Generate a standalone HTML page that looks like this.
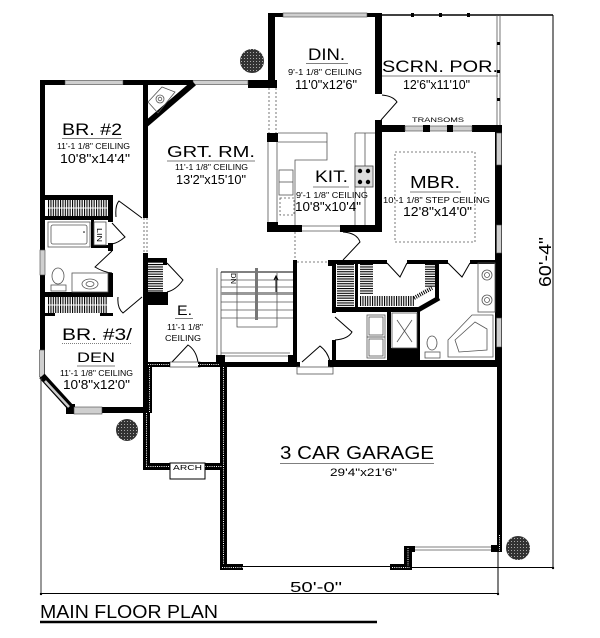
<!DOCTYPE html>
<html><head><meta charset="utf-8">
<style>html,body{margin:0;padding:0;background:#fff}svg{display:block}</style>
</head>
<body>
<svg width="600" height="638" viewBox="0 0 600 638" xmlns="http://www.w3.org/2000/svg">
<defs>
<pattern id="vr" width="2.4" height="10" patternUnits="userSpaceOnUse"><rect width="1.1" height="10" fill="#000"/></pattern>
<pattern id="hr" width="10" height="2.4" patternUnits="userSpaceOnUse"><rect width="10" height="1.1" fill="#000"/></pattern>
<pattern id="tr" width="3" height="3" patternUnits="userSpaceOnUse"><rect width="3" height="3" fill="#333"/><rect x="1" y="1" width="1" height="1" fill="#aaa"/></pattern>
</defs>
<style>
.k{fill:#000}
.w{fill:#cfcfcf;stroke:#444;stroke-width:.6}
.t{fill:none;stroke:#000;stroke-width:1}
.tg{fill:none;stroke:#555;stroke-width:.8}
.d{fill:none;stroke:#555;stroke-width:.8;stroke-dasharray:2 2}
.hd{fill:none;stroke:#fff;stroke-width:1;stroke-dasharray:1 1.2}
text{font-family:"Liberation Sans",sans-serif;fill:#000}
</style>
<rect width="600" height="638" fill="#fff"/>

<!-- ===== LEFT WING ===== -->
<g class="k">
<rect x="40" y="80" width="25" height="5"/>
<rect x="123" y="80" width="70" height="5"/>
<rect x="248" y="80" width="29" height="8"/>
<rect x="40" y="80" width="5" height="298"/>
<rect x="102" y="407" width="46" height="6"/>
<rect x="66" y="404" width="9" height="10"/>
<rect x="143" y="85" width="5" height="133"/>
<rect x="143" y="253" width="5" height="160"/>
<!-- BR2 closet -->
<rect x="45" y="195" width="67" height="5"/>
<rect x="45" y="216" width="68" height="4"/>
<!-- hall wall -->
<rect x="108" y="195" width="5" height="27"/>
<rect x="108" y="243" width="5" height="8"/>
<rect x="108" y="273" width="5" height="24"/>
<!-- LIN frame -->
<rect x="91" y="220" width="3" height="28"/>
<rect x="91" y="245" width="22" height="3"/>
<!-- bath bottom -->
<rect x="45" y="292" width="68" height="5"/>
<rect x="45" y="313" width="10" height="3"/>
<rect x="100" y="313" width="13" height="3"/>
<!-- coat closet -->
<rect x="147" y="258" width="20" height="4"/>
<rect x="163" y="258" width="4" height="7"/>
<rect x="147" y="292" width="21" height="13"/>
</g>
<rect class="w" x="65" y="80.5" width="58" height="4"/>
<rect class="w" x="193" y="80.5" width="55" height="4"/>
<rect class="w" x="40" y="250" width="5" height="25"/>
<rect class="w" x="39.5" y="350" width="5" height="27"/>
<path d="M42,376 L72,409" stroke="#000" stroke-width="7"/>
<path d="M45,381 L69,407" stroke="#ccc" stroke-width="2.5"/>
<rect class="w" x="74" y="407" width="28" height="7"/>
<path class="d" d="M144,218V253M147,218V253"/>
<!-- fireplace -->
<path d="M145,125 L194,83" stroke="#000" stroke-width="6"/>
<polygon class="tg" points="148,102 162,87 175,92 158,113"/>
<circle class="tg" cx="160" cy="99" r="4"/>
<circle class="tg" cx="160" cy="99" r="1.8"/>
<!-- closets -->
<rect x="47" y="200" width="61" height="16" fill="url(#vr)"/>
<path d="M47,208H108" stroke="#fff" stroke-width="1"/>
<rect x="47" y="297" width="61" height="16" fill="url(#vr)"/>
<path d="M47,305H108" stroke="#fff" stroke-width="1"/>
<rect x="148" y="262" width="15" height="30" fill="url(#hr)"/>
<!-- tub, lin -->
<rect class="tg" x="48" y="222" width="42" height="25"/>
<rect class="tg" x="51" y="225" width="36" height="19" rx="2"/>
<circle cx="84" cy="232" r=".8" fill="#000"/>
<rect class="tg" x="94" y="222" width="12" height="23"/>
<text transform="translate(97,228) rotate(90)" font-size="7" textLength="14" lengthAdjust="spacingAndGlyphs">LIN</text>
<!-- toilet & vanity -->
<ellipse class="tg" cx="58" cy="276" rx="6" ry="8"/>
<rect class="tg" x="51" y="285" width="15" height="6"/>
<rect class="tg" x="72" y="273" width="36" height="19"/>
<ellipse class="tg" cx="90" cy="284" rx="8" ry="5"/>
<ellipse class="tg" cx="90" cy="284" rx="4" ry="2.5"/>
<!-- doors -->
<path class="t" d="M116,217Q115,205 119,201L142,218"/>
<path class="t" d="M112,223L125,237Q118,243 112,244"/>
<path class="t" d="M112,251L95,267Q103,272 112,273"/>
<path class="t" d="M118,297Q117,308 123,313L142,297"/>
<path class="t" d="M167,263L183,280Q176,290 167,292"/>

<!-- ===== DINING / KITCHEN ===== -->
<g class="k">
<rect x="268" y="13" width="7" height="75"/>
<rect x="268" y="13" width="15" height="4"/>
<rect x="367" y="13" width="15" height="4"/>
<rect x="375" y="13" width="7" height="81"/>
<rect x="375" y="120" width="7" height="112"/>
<rect x="267" y="133" width="11" height="9"/>
<rect x="267" y="222" width="11" height="10"/>
<rect x="267" y="225" width="35" height="7"/>
<rect x="340" y="225" width="42" height="7"/>
</g>
<rect class="w" x="283" y="13" width="84" height="4"/>
<path class="d" d="M269,88V133M276,88V133"/>
<path class="tg" d="M268,142V222M277,142V222"/>
<path class="tg" d="M302,226H340M302,231H340"/>
<path class="tg" d="M278,133H327V160H295V225M278,142H327"/>
<rect class="tg" x="279" y="170" width="14" height="25"/>
<path class="tg" d="M279,182H293"/>
<rect class="d" x="280" y="198" width="14" height="17"/>
<path class="tg" d="M355,133V225M365,133V225M355,133H375"/>
<rect x="355" y="166" width="18" height="21" fill="#ddd" stroke="#444" stroke-width=".8"/>
<circle cx="360" cy="171" r="2.2"/><circle cx="368" cy="171" r="2.2"/>
<circle cx="360" cy="182" r="2.2"/><circle cx="368" cy="182" r="2.2"/>
<path class="t" d="M382,95Q393,96 397,102L381,120"/>
<path class="t" d="M343,232Q357,233 360,242L343,260"/>

<!-- ===== SCREEN PORCH ===== -->
<path d="M382,15H553" stroke="#000" stroke-width="1.5"/>
<g class="k"><rect x="411" y="13" width="3" height="4"/><rect x="439" y="13" width="3" height="4"/><rect x="467" y="13" width="3" height="4"/></g>
<path class="tg" d="M497,15V125M500,15V125"/>
<g class="k"><rect x="497" y="42" width="3" height="3"/><rect x="497" y="70" width="3" height="3"/><rect x="497" y="98" width="3" height="3"/></g>

<!-- ===== MASTER ===== -->
<g class="k">
<rect x="375" y="125" width="30" height="7"/>
<rect x="472" y="125" width="28" height="7"/>
<rect x="495" y="125" width="7" height="242"/>
<rect x="330" y="260" width="57" height="4"/>
<rect x="407" y="260" width="41" height="4"/>
<rect x="470" y="260" width="27" height="4"/>
<rect x="332" y="262" width="4" height="51"/>
<rect x="332" y="340" width="4" height="22"/>
<rect x="355" y="263" width="3" height="45"/>
<rect x="332" y="307" width="88" height="5"/>
<rect x="435" y="263" width="4" height="37"/>
<rect x="387" y="312" width="4" height="50"/>
<rect x="417" y="312" width="3" height="50"/>
<rect x="391" y="348" width="27" height="13"/>
<rect x="328" y="360" width="174" height="7"/>
<rect x="328" y="260" width="7" height="6"/>
</g>
<rect class="w" x="405" y="126" width="67" height="5"/>
<rect x="423" y="125" width="7" height="7"/>
<rect x="447" y="125" width="6" height="7"/>
<rect class="w" x="496.5" y="133" width="5" height="32"/>
<rect class="w" x="496.5" y="225" width="5" height="28"/>
<rect class="w" x="496.5" y="318" width="5" height="29"/>
<text x="412" y="122" font-size="6.5" textLength="52" lengthAdjust="spacingAndGlyphs">TRANSOMS</text>
<rect class="d" x="395" y="152" width="80" height="90"/>
<path class="t" d="M387,263L400,277L407,263M448,263L462,277L470,263"/>
<path d="M418,310 L439,298" stroke="#000" stroke-width="5"/>
<rect x="337" y="264" width="17" height="43" fill="url(#hr)"/>
<rect x="360" y="264" width="13" height="30" fill="url(#hr)"/>
<rect x="360" y="296" width="54" height="10" fill="url(#vr)"/>
<rect x="425" y="264" width="11" height="24" fill="url(#hr)"/>
<path d="M414,298 L432,288" stroke="#000" stroke-width="4" stroke-dasharray="1 1.2"/>
<rect class="tg" x="392" y="313" width="25" height="35"/>
<path class="tg" d="M397,320L412,342M412,320L397,342"/>
<rect class="tg" x="367" y="315" width="18" height="22"/>
<rect class="tg" x="369" y="317" width="14" height="18"/>
<rect class="tg" x="367" y="337" width="18" height="21"/>
<rect class="tg" x="369" y="339" width="14" height="17"/>
<ellipse class="tg" cx="432" cy="343" rx="5" ry="7"/>
<rect class="tg" x="425" y="352" width="15" height="6"/>
<rect class="tg" x="478" y="263" width="17" height="49"/>
<circle class="tg" cx="487" cy="275" r="5"/><circle class="tg" cx="487" cy="275" r="2.5"/>
<circle class="tg" cx="487" cy="300" r="5"/><circle class="tg" cx="487" cy="300" r="2.5"/>
<path class="tg" d="M448,340L472,315H493V357H448Z"/>
<path class="tg" d="M455,340L475,322L487,329V350L459,352Z"/>
<path class="t" d="M335,317L352,332Q348,339 335,340"/>

<!-- ===== STAIRS / FOYER ===== -->
<path class="tg" d="M217,268V357M221,272V357"/>
<path class="t" d="M221,272H293"/>
<path class="tg" d="M221,280H293M221,287H293M221,302H293M221,310H293M221,318H293"/>
<rect x="221" y="292" width="72" height="3" fill="#999"/>
<rect x="255" y="268" width="3" height="52" fill="#777"/>
<path class="tg" d="M237,273V327H277V273"/>
<path class="tg" d="M221,353H290M221,356H290"/>
<text transform="translate(231,273) rotate(90)" font-size="7" textLength="11" lengthAdjust="spacingAndGlyphs">DN</text>
<path class="t" d="M276,292V277M274,280L276,276L278,280"/>
<g class="k">
<rect x="293" y="260" width="4" height="102"/>
<rect x="216" y="355" width="9" height="12"/>
<rect x="288" y="355" width="9" height="12"/>
<rect x="225" y="362" width="75" height="5"/>
</g>
<path class="d" d="M295,232V260M297,262H328"/>
<path class="t" d="M302,362L320,346Q328,352 330,362"/>
<rect class="tg" x="297" y="367" width="36" height="7"/>
<path class="t" d="M172,362L188,345Q196,350 198,362"/>
<rect class="tg" x="170" y="362" width="30" height="5"/>

<!-- ===== PORCH (hatched walls) ===== -->
<g class="k">
<rect x="147" y="362" width="23" height="5"/>
<rect x="198" y="362" width="22" height="5"/>
<rect x="147" y="367" width="5" height="46"/>
<rect x="143" y="413" width="7" height="57"/>
<rect x="143" y="463" width="27" height="7"/>
<rect x="205" y="463" width="17" height="7"/>
<rect x="220" y="362" width="7" height="208"/>
</g>
<path class="hd" d="M148,364.5H170M198,364.5H220M149.5,367V413M146.5,413V468M146,466.5H170M205,466.5H222M223.5,367V567"/>
<rect class="t" x="170" y="463" width="35" height="16"/>
<text x="173" y="470" font-size="7.5" textLength="29" lengthAdjust="spacingAndGlyphs">ARCH</text>

<!-- ===== GARAGE ===== -->
<g class="k">
<rect x="330" y="362" width="172" height="5"/>
<rect x="497" y="362" width="5" height="190"/>
<rect x="220" y="564" width="23" height="6"/>
<rect x="390" y="564" width="22" height="6"/>
<rect x="404" y="546" width="8" height="24"/>
<rect x="404" y="546" width="11" height="6"/>
<rect x="491" y="545" width="11" height="7"/>
</g>
<path class="hd" d="M499.5,535V551M222,567.5H243M392,567.5H410M408,548V566"/>
<path class="tg" d="M415,547H491M415,550H491"/>
<path d="M243,566.5H390" stroke="#000" stroke-width="1"/>

<!-- ===== DIMENSIONS ===== -->
<path d="M553,15V568M412,567.5H553M40,593.5H498M498,552V595" stroke="#000" stroke-width="1" fill="none"/>
<path d="M41,378V595" stroke="#333" stroke-width="1"/>
<circle cx="553" cy="568" r="1.2"/><circle cx="498" cy="594" r="1.2"/><circle cx="41" cy="594" r="1.2"/>

<!-- ===== TREES ===== -->
<circle cx="252" cy="61" r="12" fill="url(#tr)"/>
<circle cx="127" cy="430" r="11" fill="url(#tr)"/>
<circle cx="518" cy="548" r="12" fill="url(#tr)"/>

<!-- ===== LABELS ===== -->
<text x="62" y="135" font-size="16.5" textLength="60" lengthAdjust="spacingAndGlyphs">BR. #2</text>
<path class="tg" d="M62,138.5H122"/>
<text x="57" y="149" font-size="8" textLength="73" lengthAdjust="spacingAndGlyphs">11'-1 1/8" CEILING</text>
<text x="60" y="163" font-size="12.5" textLength="70" lengthAdjust="spacingAndGlyphs">10'8"x14'4"</text>

<text x="167" y="157" font-size="15.5" textLength="88" lengthAdjust="spacingAndGlyphs">GRT. RM.</text>
<path class="tg" d="M167,161H255"/>
<text x="175" y="170" font-size="8" textLength="73" lengthAdjust="spacingAndGlyphs">11'-1 1/8" CEILING</text>
<text x="176" y="184" font-size="12.5" textLength="70" lengthAdjust="spacingAndGlyphs">13'2"x15'10"</text>

<text x="308" y="60" font-size="16.5" textLength="37" lengthAdjust="spacingAndGlyphs">DIN.</text>
<path class="tg" d="M306,63.5H348"/>
<text x="288" y="75" font-size="8" textLength="74" lengthAdjust="spacingAndGlyphs">9'-1 1/8" CEILING</text>
<text x="295" y="89" font-size="12.5" textLength="62" lengthAdjust="spacingAndGlyphs">11'0"x12'6"</text>

<text x="382" y="72" font-size="16.5" textLength="116" lengthAdjust="spacingAndGlyphs">SCRN. POR.</text>
<path class="tg" d="M382,76H498"/>
<text x="403" y="89" font-size="12.5" textLength="67" lengthAdjust="spacingAndGlyphs">12'6"x11'10"</text>

<text x="315" y="182" font-size="16.5" textLength="33" lengthAdjust="spacingAndGlyphs">KIT.</text>
<path class="tg" d="M313,187H349"/>
<text x="296" y="198" font-size="8" textLength="72" lengthAdjust="spacingAndGlyphs">9'-1 1/8" CEILING</text>
<text x="295" y="211" font-size="12.5" textLength="66" lengthAdjust="spacingAndGlyphs">10'8"x10'4"</text>

<text x="410" y="188" font-size="17.5" textLength="50" lengthAdjust="spacingAndGlyphs">MBR.</text>
<path class="tg" d="M410,192H461"/>
<text x="383" y="203" font-size="8" textLength="107" lengthAdjust="spacingAndGlyphs">10'-1 1/8" STEP CEILING</text>
<text x="403" y="216" font-size="12.5" textLength="69" lengthAdjust="spacingAndGlyphs">12'8"x14'0"</text>

<text x="177" y="315" font-size="14" textLength="15" lengthAdjust="spacingAndGlyphs">E.</text>
<path class="tg" d="M175,318.5H193"/>
<text x="167" y="330" font-size="8" textLength="36" lengthAdjust="spacingAndGlyphs">11'-1 1/8"</text>
<text x="165" y="341" font-size="8" textLength="36" lengthAdjust="spacingAndGlyphs">CEILING</text>

<text x="62" y="340" font-size="16.5" textLength="70" lengthAdjust="spacingAndGlyphs">BR. #3/</text>
<path class="tg" d="M62,343.5H132" stroke-dasharray="1 1"/>
<text x="77" y="362" font-size="14" textLength="38" lengthAdjust="spacingAndGlyphs">DEN</text>
<path class="tg" d="M77,366H115"/>
<text x="60" y="376" font-size="8" textLength="73" lengthAdjust="spacingAndGlyphs">11'-1 1/8" CEILING</text>
<text x="63" y="389" font-size="12.5" textLength="67" lengthAdjust="spacingAndGlyphs">10'8"x12'0"</text>

<text x="280" y="459" font-size="18" textLength="154" lengthAdjust="spacingAndGlyphs">3 CAR GARAGE</text>
<path class="tg" d="M280,463.5H434"/>
<text x="330" y="476" font-size="11" textLength="67" lengthAdjust="spacingAndGlyphs">29'4"x21'6"</text>

<text x="290" y="592" font-size="15" textLength="52" lengthAdjust="spacingAndGlyphs">50'-0"</text>
<text transform="translate(551,287) rotate(-90)" font-size="17.5" textLength="50" lengthAdjust="spacingAndGlyphs">60'-4"</text>

<text x="40" y="618" font-size="18" textLength="178" lengthAdjust="spacingAndGlyphs">MAIN FLOOR PLAN</text>
<path d="M40,622H377" stroke="#000" stroke-width="2.5"/>
</svg>
</body></html>
